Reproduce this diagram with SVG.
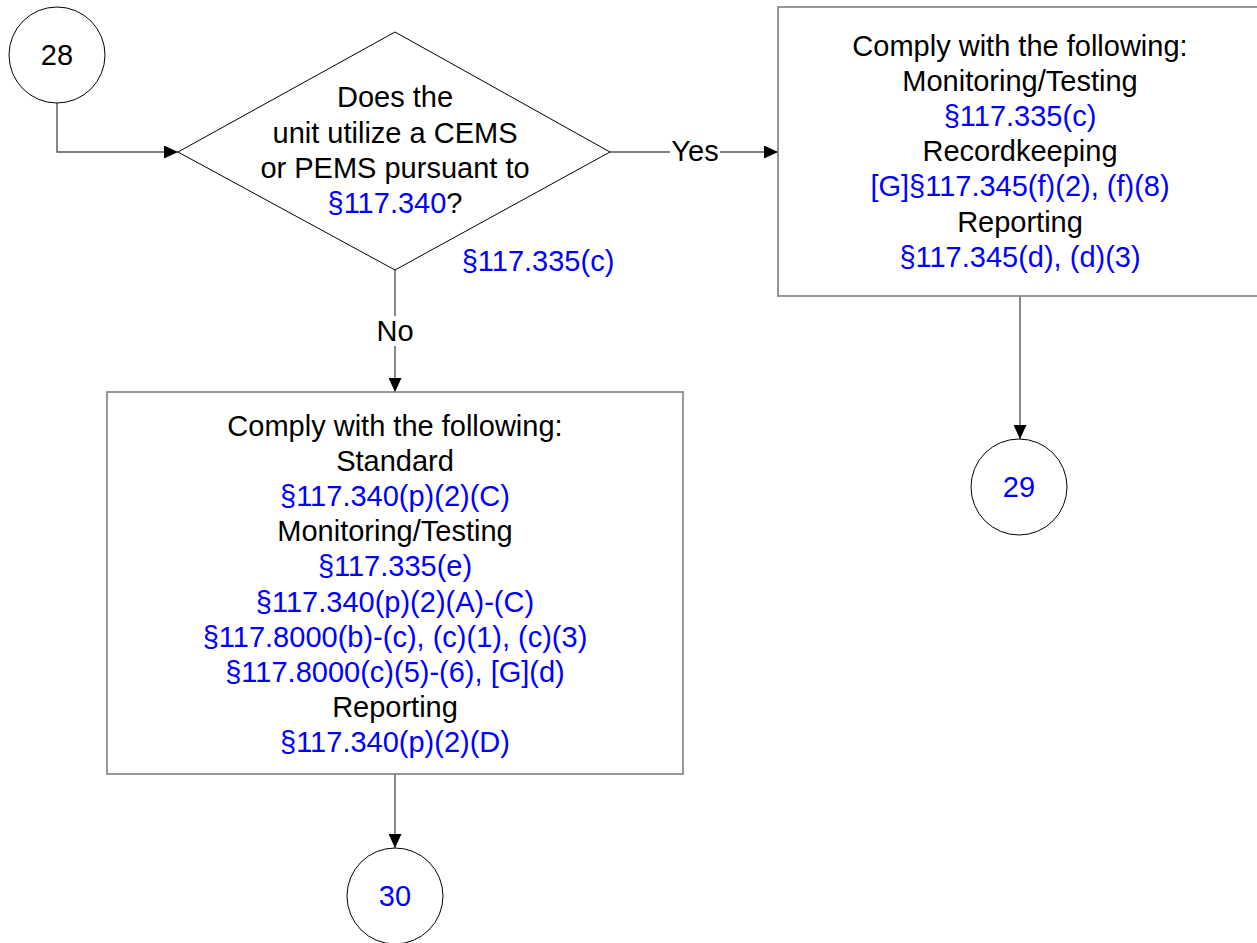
<svg xmlns="http://www.w3.org/2000/svg" width="1257" height="943" viewBox="0 0 1257 943">
<style>
text{font-family:"Liberation Sans",Arial,sans-serif;font-size:29px;fill:#000;text-anchor:middle}
.b{fill:#0000ff}
.shape{fill:#fff;stroke:#000;stroke-width:1}
.box{fill:#fff;stroke:#7f7f7f;stroke-width:1.6}
.conn{fill:none;stroke:#555;stroke-width:1.4}
</style>
<defs>
<marker id="ah" markerWidth="14" markerHeight="13" refX="14" refY="6.5" orient="auto" markerUnits="userSpaceOnUse">
<path d="M0,0 L14,6.5 L0,13 Z" fill="#000"/>
</marker>
</defs>
<rect width="1257" height="943" fill="#fff"/>
<g id="connectors">
<path class="conn" d="M57,103 V152 H178" marker-end="url(#ah)"/>
<path class="conn" d="M610,152 H778" marker-end="url(#ah)"/>
<path class="conn" d="M395,270 V392" marker-end="url(#ah)"/>
<path class="conn" d="M1020,296 V439" marker-end="url(#ah)"/>
<path class="conn" d="M395,774 V848" marker-end="url(#ah)"/>
<rect x="670" y="138" width="50" height="28" fill="#fff"/>
<text x="695" y="161">Yes</text>
<rect x="376" y="316" width="38" height="30" fill="#fff"/>
<text x="395" y="341">No</text>
</g>
<g id="node28">
<circle class="shape" cx="57" cy="55" r="48"/>
<text x="57" y="65">28</text>
</g>
<g id="decision">
<polygon class="shape" points="395,32 610,152 395,270 178,152"/>
<text x="395" y="107">Does the</text>
<text x="395" y="142.5">unit utilize a CEMS</text>
<text x="395" y="177.7">or PEMS pursuant to</text>
<text x="395" y="212.9"><tspan class="b">§117.340</tspan>?</text>
<text class="b" x="538" y="271">§117.335(c)</text>
</g>
<g id="yesBox">
<rect class="box" x="778" y="7" width="484" height="289"/>
<text x="1020" y="55.5">Comply with the following:</text>
<text x="1020" y="90.7">Monitoring/Testing</text>
<text class="b" x="1020" y="125.9">§117.335(c)</text>
<text x="1020" y="161.1">Recordkeeping</text>
<text class="b" x="1020" y="196.3">[G]§117.345(f)(2), (f)(8)</text>
<text x="1020" y="231.5">Reporting</text>
<text class="b" x="1020" y="266.7">§117.345(d), (d)(3)</text>
</g>
<g id="noBox">
<rect class="box" x="107" y="392" width="576" height="382"/>
<text x="395" y="435.5">Comply with the following:</text>
<text x="395" y="470.7">Standard</text>
<text class="b" x="395" y="505.9">§117.340(p)(2)(C)</text>
<text x="395" y="541.1">Monitoring/Testing</text>
<text class="b" x="395" y="576.3">§117.335(e)</text>
<text class="b" x="395" y="611.5">§117.340(p)(2)(A)-(C)</text>
<text class="b" x="395" y="646.7">§117.8000(b)-(c), (c)(1), (c)(3)</text>
<text class="b" x="395" y="681.9">§117.8000(c)(5)-(6), [G](d)</text>
<text x="395" y="717.1">Reporting</text>
<text class="b" x="395" y="752.3">§117.340(p)(2)(D)</text>
</g>
<g id="node29">
<circle class="shape" cx="1019" cy="487" r="48"/>
<text class="b" x="1019" y="497">29</text>
</g>
<g id="node30">
<circle class="shape" cx="395" cy="896" r="48"/>
<text class="b" x="395" y="906">30</text>
</g>
</svg>
